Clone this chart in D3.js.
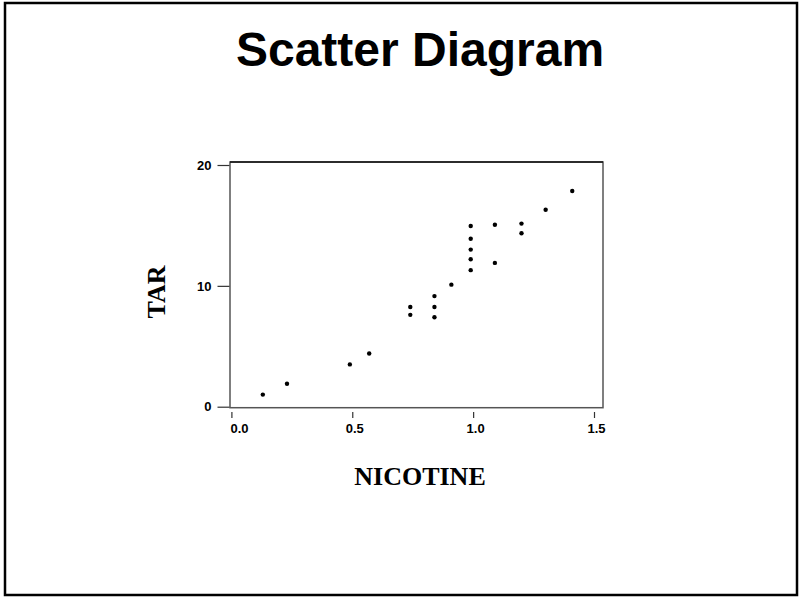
<!DOCTYPE html>
<html>
<head>
	<title>Scatter Diagram</title>
	<script src="https://d3js.org/d3.v7.min.js"></script>
	<style>
		body { margin: 0; background: #fff; }
	</style>
</head>
<body>
<div id="chart"></div>
<script>

	// nicotine (x) and tar (y)
	var nicotine = [0.13, 0.23, 0.49, 0.57, 0.74, 0.74, 0.84, 0.84, 0.84, 0.91,
	                0.99, 0.99, 0.99, 0.99, 0.99, 1.09, 1.09, 1.2, 1.2, 1.3, 1.41];
	var tar = [1.0, 1.9, 3.5, 4.4, 8.25, 7.6, 9.15, 8.25, 7.4, 10.1,
	           14.95, 13.9, 13.0, 12.2, 11.3, 15.05, 11.9, 15.15, 14.35, 16.3, 17.85];

	var xTicks = [0, 0.5, 1.0, 1.5];
	var yTicks = [0, 10, 20];

	var width = 803;
	var height = 597;

	var svg = d3.select('#chart')
		.append('svg')
		.attr('width', width)
		.attr('height', height);

	// outer border
	svg.append('rect')
		.attr('x', 5)
		.attr('y', 3)
		.attr('width', 792)
		.attr('height', 592)
		.attr('fill', 'white')
		.attr('stroke', 'black')
		.attr('stroke-width', 2.5);

	svg.append('text')
		.attr('x', 420)
		.attr('y', 66)
		.attr('text-anchor', 'middle')
		.attr('font-family', 'Liberation Sans, Arial, sans-serif')
		.attr('font-weight', 'bold')
		.attr('font-size', 48)
		.text('Scatter Diagram');

	var x = d3.scaleLinear().domain([0, 1.5]).range([231.4, 594]);
	var y = d3.scaleLinear().domain([0, 20]).range([406.7, 165]);

	// plot frame
	svg.append('rect')
		.attr('x', 230)
		.attr('y', 162)
		.attr('width', 373)
		.attr('height', 245.7)
		.attr('fill', 'none')
		.attr('stroke', '#555')
		.attr('stroke-width', 1.5);
	svg.append('line')
		.attr('x1', 230).attr('x2', 603)
		.attr('y1', 162).attr('y2', 162)
		.attr('stroke', '#111')
		.attr('stroke-width', 1.5);

	var xAxis = svg.append('g')
		.attr('transform', 'translate(0,412)')
		.call(d3.axisBottom(x).tickValues(xTicks).tickSize(6).tickPadding(6)
			.tickFormat(d3.format('.1f')));
	xAxis.select('.domain').remove();
	xAxis.selectAll('text')
		.attr('dx', 2)
		.attr('font-size', 13)
		.attr('font-weight', 'bold')
		.attr('font-family', 'Liberation Sans, Arial, sans-serif')
		.attr('fill', 'black');
	xAxis.selectAll('.tick').filter(function(d){ return d === 0; })
		.select('text').attr('text-anchor', 'start').attr('dx', -1.5);
	xAxis.selectAll('line').attr('stroke', '#333').attr('stroke-width', 1.2);

	var yAxis = svg.append('g')
		.attr('transform', 'translate(229.5,0)')
		.call(d3.axisLeft(y).tickValues(yTicks).tickSize(12).tickPadding(6));
	yAxis.select('.domain').remove();
	yAxis.selectAll('text')
		.attr('font-size', 13)
		.attr('font-weight', 'bold')
		.attr('font-family', 'Liberation Sans, Arial, sans-serif')
		.attr('fill', 'black');
	yAxis.selectAll('line').attr('stroke', '#333').attr('stroke-width', 1.2);

	svg.append('text')
		.attr('transform', 'translate(165,292) rotate(-90)')
		.attr('text-anchor', 'middle')
		.attr('font-family', 'Liberation Serif, Times New Roman, serif')
		.attr('font-weight', 'bold')
		.attr('font-size', 26)
		.text('TAR');

	svg.append('text')
		.attr('x', 420)
		.attr('y', 485)
		.attr('text-anchor', 'middle')
		.attr('font-family', 'Liberation Serif, Times New Roman, serif')
		.attr('font-weight', 'bold')
		.attr('font-size', 26)
		.text('NICOTINE');

	svg.selectAll('.dot')
		.data(nicotine)
		.enter()
		.append('circle')
		.attr('class', 'dot')
		.attr('cx', function(d){ return x(d); })
		.attr('cy', function(d, i){ return y(tar[i]); })
		.attr('r', 2.2)
		.attr('fill', 'black');

</script>
</body>
</html>
